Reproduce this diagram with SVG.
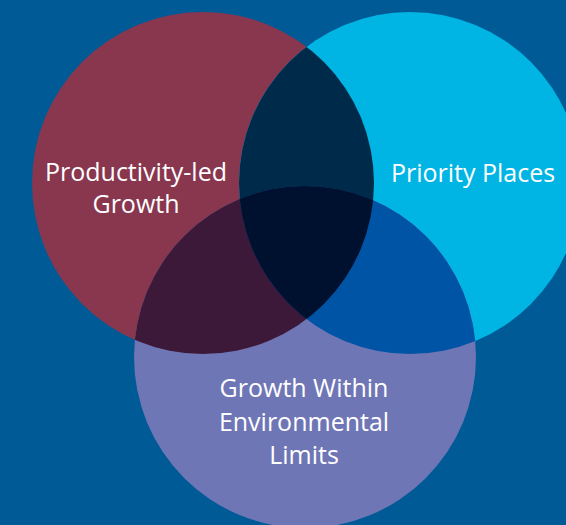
<svg xmlns="http://www.w3.org/2000/svg" width="566" height="525" viewBox="0 0 566 525">
<style>
.lbl{font-family:"Open Sans","Liberation Sans",sans-serif;font-size:25px;fill:#ffffff;text-anchor:middle}
</style>
<defs>
<clipPath id="cL"><circle cx="203" cy="183" r="171"/></clipPath>
<clipPath id="cR"><circle cx="410" cy="183" r="171"/></clipPath>
<clipPath id="cB"><circle cx="305" cy="357" r="171"/></clipPath>
</defs>
<rect width="566" height="525" fill="#005a96"/>
<g id="productivity">
<circle cx="203" cy="183" r="171" fill="#89374f"/>
</g>
<g id="priority">
<circle cx="410" cy="183" r="171" fill="#00b5e4"/>
</g>
<g id="environment">
<circle cx="305" cy="357" r="171" fill="#6f76b6"/>
</g>
<g id="overlaps">
<circle cx="410" cy="183" r="171" fill="#002a4a" clip-path="url(#cL)"/>
<circle cx="305" cy="357" r="171" fill="#3d1939" clip-path="url(#cL)"/>
<circle cx="305" cy="357" r="171" fill="#0054a6" clip-path="url(#cR)"/>
<g clip-path="url(#cL)"><circle cx="305" cy="357" r="171" fill="#00112f" clip-path="url(#cR)"/></g>
</g>
<g id="labels">
<text class="lbl" x="136" y="181">Productivity-led</text>
<text class="lbl" x="136" y="213">Growth</text>
<text class="lbl" x="473" y="182">Priority Places</text>
<text class="lbl" x="304" y="397">Growth Within</text>
<text class="lbl" x="304" y="431">Environmental</text>
<text class="lbl" x="304" y="464">Limits</text>
</g>
<g id="connectors"/>
</svg>
